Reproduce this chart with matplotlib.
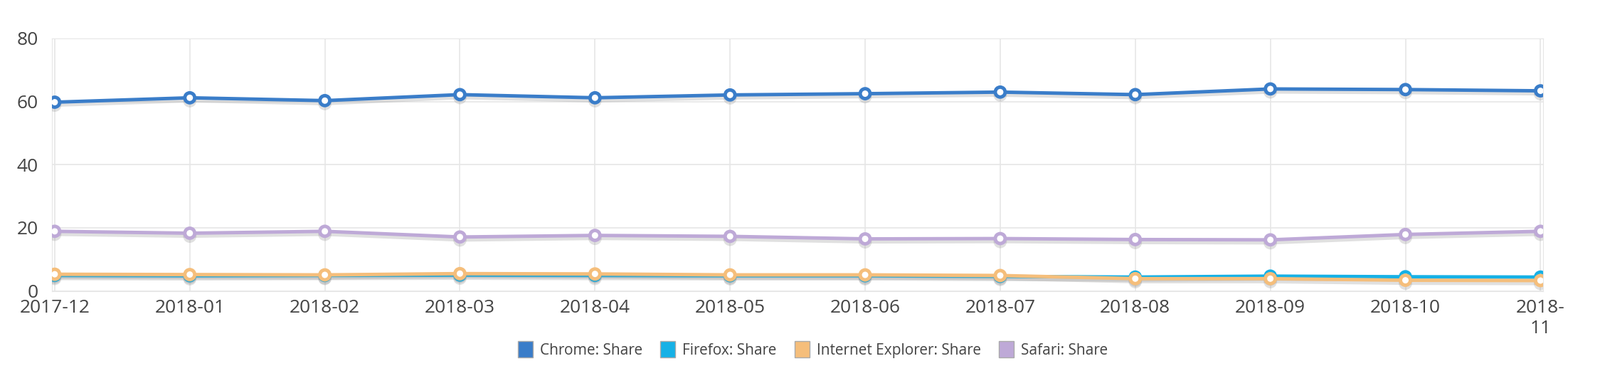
import matplotlib.pyplot as plt
import matplotlib.patheffects as pe
from matplotlib.patches import Patch

months = ["2017-12", "2018-01", "2018-02", "2018-03", "2018-04", "2018-05",
          "2018-06", "2018-07", "2018-08", "2018-09", "2018-10", "2018-\n11"]
chrome = [59.8, 61.2, 60.3, 62.2, 61.2, 62.1, 62.5, 63.0, 62.2, 64.0, 63.8, 63.4]
firefox = [4.9, 4.8, 4.9, 5.0, 4.9, 4.8, 4.8, 4.6, 4.4, 4.7, 4.5, 4.4]
ie = [5.3, 5.2, 5.1, 5.5, 5.4, 5.1, 5.1, 4.9, 3.9, 3.9, 3.4, 3.3]
safari = [18.9, 18.3, 18.9, 17.1, 17.6, 17.3, 16.5, 16.6, 16.3, 16.2, 17.9, 18.9]

series = [("Chrome: Share", chrome, "#3a7dc9"),
          ("Firefox: Share", firefox, "#16b1e6"),
          ("Internet Explorer: Share", ie, "#f5be7b"),
          ("Safari: Share", safari, "#bea9d7")]

plt.rcParams["font.family"] = "Open Sans"
fig = plt.figure(figsize=(22.49, 5.14), dpi=100)
ax = fig.add_axes([0.0325, 0.205, 0.932, 0.69])

x = list(range(len(months)))
for name, vals, col in series:
    ax.plot(x, vals, color=col, lw=3.5, marker="o", ms=10, mfc="white",
            mec=col, mew=3.5, label=name, zorder=3,
            path_effects=[pe.SimpleLineShadow(offset=(0, -3), shadow_color="#999999", alpha=0.3),
                          pe.Normal()])

ax.set_xlim(-0.02, 11.02)
ax.set_ylim(0, 80)
ax.set_yticks([0, 20, 40, 60, 80])
ax.set_xticks(x)
ax.set_xticklabels(months)
ax.tick_params(length=0, labelsize=19, colors="#444444", pad=8)
ax.tick_params(axis="y", pad=14)
ax.grid(True, color="#e6e6e6", lw=1.2)
for s in ax.spines.values():
    s.set_color("#e6e6e6")

leg_handles = [Patch(facecolor=c, edgecolor="#aaaaaa") for _, _, c in series]
fig.legend(leg_handles, [n for n, _, _ in series], loc="center", bbox_to_anchor=(0.508, 0.045),
           ncol=4, frameon=False, fontsize=15, handlelength=1.0, handleheight=1.3,
           columnspacing=1.2, handletextpad=0.5, labelcolor="#444444")

fig.savefig("out.png", dpi=100)
